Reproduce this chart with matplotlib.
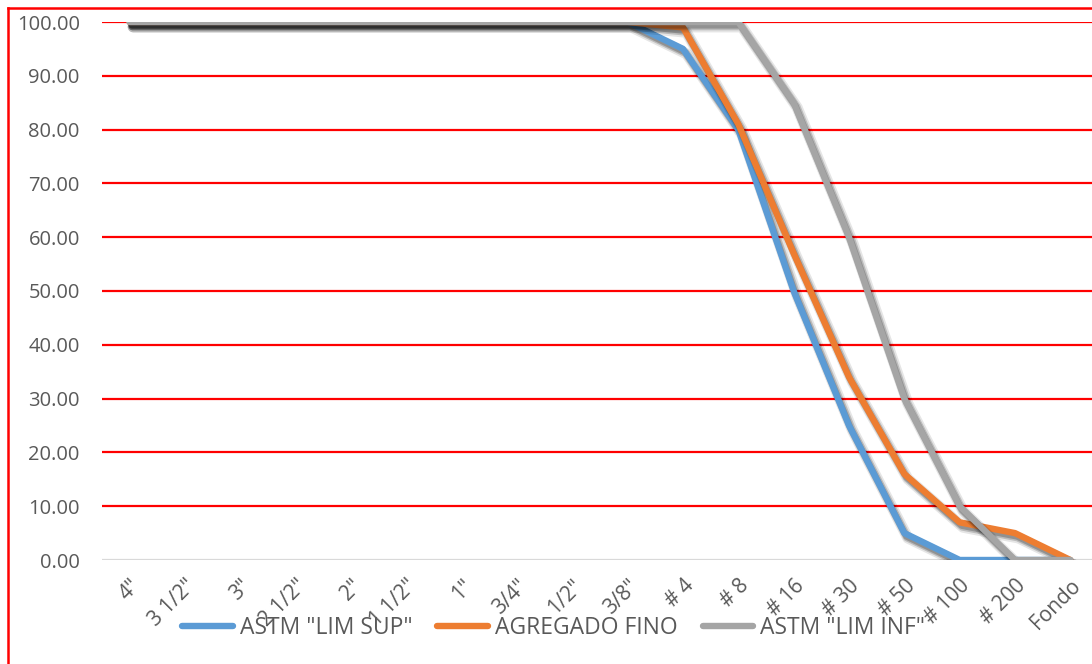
import matplotlib
matplotlib.use("Agg")
import matplotlib.pyplot as plt
import matplotlib.patheffects as pe
import matplotlib.transforms as mtransforms
from matplotlib.lines import Line2D

plt.rcParams['font.family'] = ['Open Sans', 'DejaVu Sans']

# Sieve sizes (categories)
tamices = ['4"', '3 1/2"', '3"', '2 1/2"', '2"', '1 1/2"', '1"', '3/4"', '1/2"', '3/8"',
           '# 4', '# 8', '# 16', '# 30', '# 50', '# 100', '# 200', 'Fondo']

# Percent passing for each series
lim_sup = [100, 100, 100, 100, 100, 100, 100, 100, 100, 100, 95, 80, 50, 25, 5, 0, 0, 0]
agregado_fino = [100, 100, 100, 100, 100, 100, 100, 100, 100, 100, 99, 81, 57, 34, 16, 7, 5, 0]
lim_inf = [100, 100, 100, 100, 100, 100, 100, 100, 100, 100, 100, 100, 85, 60, 30, 10, 0, 0]

series_names = ['ASTM "LIM SUP"', 'AGREGADO FINO', 'ASTM "LIM INF"']
series_colors = ['#5b9bd5', '#ed7d31', '#a5a5a5']
yticks = [0, 10, 20, 30, 40, 50, 60, 70, 80, 90, 100]

W, H = 1092, 664
fig = plt.figure(figsize=(W / 100, H / 100), dpi=100)
fig.patch.set_facecolor('white')

left, right, top, bottom = 102, 1098, 22, 560
ax = fig.add_axes([left / W, 1 - bottom / H, (right - left) / W, (bottom - top) / H])

x = list(range(len(tamices)))
# soft drop shadow built from a few offset strokes
shadow = [pe.SimpleLineShadow(offset=(2.5, -3.5), shadow_color='black', alpha=0.10, linewidth=8),
          pe.SimpleLineShadow(offset=(2, -3), shadow_color='black', alpha=0.18, linewidth=6),
          pe.SimpleLineShadow(offset=(1.5, -2.5), shadow_color='black', alpha=0.22, linewidth=4.5),
          pe.Normal()]
handles = []
for vals, name, col in zip([lim_sup, agregado_fino, lim_inf], series_names, series_colors):
    ax.plot(x, vals, color=col, lw=4.6, solid_capstyle='round',
            solid_joinstyle='round', path_effects=shadow, zorder=3)
    handles.append(Line2D([], [], color=col, lw=4.6, solid_capstyle='round', label=name))

ax.set_xlim(-0.5, len(tamices) - 0.5)
ax.set_ylim(0, 100)
ax.set_yticks(yticks)
ax.set_yticklabels([f'{v:.2f}' for v in yticks])
ax.set_xticks(x)
ax.set_xticklabels(tamices, rotation=45, ha='right', va='top', rotation_mode='anchor')
shift = mtransforms.ScaledTranslation(-6 / 100, 0, fig.dpi_scale_trans)
for lbl in ax.get_xticklabels():
    lbl.set_transform(lbl.get_transform() + shift)

for v in yticks[1:]:
    ax.axhline(v, color='#ff0000', lw=1.6, zorder=1)
ax.axhline(0, color='#d9d9d9', lw=1.6, zorder=1)

for s in ax.spines.values():
    s.set_visible(False)
ax.tick_params(axis='y', length=0, pad=16, labelsize=14.5, labelcolor='#595959')
ax.tick_params(axis='x', length=0, pad=11, labelsize=15, labelcolor='#595959')
ax.set_facecolor('none')

leg = fig.legend(handles=handles, loc='center', bbox_to_anchor=(0.507, 1 - 628 / H), ncol=3,
                 frameon=False, fontsize=16.5, handlelength=2.2, columnspacing=1.1,
                 handletextpad=0.3, labelcolor='#595959')
leg.set_zorder(5)

# Chart-area border in red
fig.add_artist(Line2D([8 / W, 1.0], [1 - 8 / H, 1 - 8 / H], color='#ff0000', lw=1.8,
                      transform=fig.transFigure))
fig.add_artist(Line2D([8 / W, 8 / W], [1 - 8 / H, 0.0], color='#ff0000', lw=1.8,
                      transform=fig.transFigure))

fig.savefig('out.png', dpi=100)
